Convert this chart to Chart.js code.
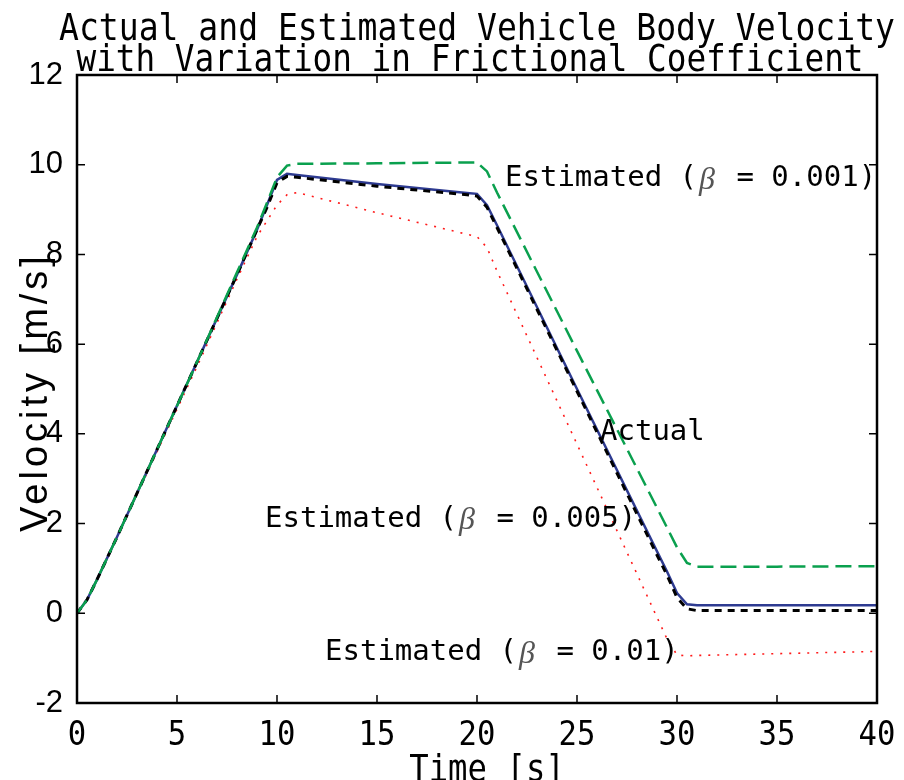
<!DOCTYPE html>
<html>
<head>
<meta charset="utf-8">
<script src="https://cdn.jsdelivr.net/npm/chart.js@4/dist/chart.umd.min.js"></script>
<style>
  html,body{margin:0;padding:0;background:#fff;}
  #wrap{width:904px;height:780px;}
</style>
</head>
<body>
<div id="wrap"><canvas id="c" width="904" height="780"></canvas></div>
<script>
// данные
const time        = [0, 0.5, 1, 2, 4, 6, 8, 9, 9.5, 10, 10.5, 11, 15, 19.5, 20, 20.5, 21, 25, 29, 29.5, 30, 30.5, 31, 35, 40];
const estim001    = [0, 0.3, 0.75, 1.7, 3.65, 5.6, 7.6, 8.6, 9.15, 9.72, 9.98, 10.02, 10.03, 10.05, 10.05, 9.85, 9.38, 5.85, 2.35, 1.91, 1.47, 1.12, 1.04, 1.04, 1.05];
const actualVel   = [0, 0.3, 0.75, 1.7, 3.65, 5.6, 7.55, 8.55, 9.1, 9.66, 9.8, 9.77, 9.57, 9.37, 9.35, 9.1, 8.65, 5.0, 1.38, 0.93, 0.45, 0.2, 0.18, 0.18, 0.18];
const estim005    = [0, 0.3, 0.75, 1.7, 3.65, 5.6, 7.55, 8.55, 9.05, 9.6, 9.74, 9.72, 9.52, 9.33, 9.3, 9.05, 8.6, 4.95, 1.3, 0.85, 0.35, 0.1, 0.06, 0.06, 0.06];
const estim01     = [0, 0.3, 0.75, 1.7, 3.6, 5.5, 7.45, 8.4, 8.75, 9.1, 9.33, 9.38, 8.93, 8.45, 8.4, 8.15, 7.63, 3.77, -0.09, -0.57, -0.93, -0.95, -0.94, -0.9, -0.85];
const xTicks      = [0, 5, 10, 15, 20, 25, 30, 35, 40];
const yTicks      = [-2, 0, 2, 4, 6, 8, 10, 12];
const titleLines  = ['Actual and Estimated Vehicle Body Velocity', 'with Variation in Frictional Coefficient'];
const labels      = [
  {t:21.4, v:9.7,   pre:'Estimated (', tail:' = 0.001)'},
  {t:26.15, v:4.02, pre:'Actual', tail:null},
  {t:9.4,  v:2.1,   pre:'Estimated (', tail:' = 0.005)'},
  {t:12.4, v:-0.88, pre:'Estimated (', tail:' = 0.01)'}
];

const MONO = '"DejaVu Sans Mono", "Liberation Mono", monospace';

function pts(arr){ return time.map((t,i)=>({x:t, y:arr[i]})); }

// текст, сжатый по горизонтали
function narrowText(ctx, str, x, y, sx, align){
  ctx.save();
  ctx.translate(x, y);
  ctx.scale(sx, 1);
  ctx.textAlign = align || 'left';
  ctx.fillText(str, 0, 0);
  ctx.restore();
}

const decor = {
  id:'decor',
  afterDraw(chart){
    const ctx = chart.ctx, a = chart.chartArea;
    const xs = chart.scales.x, ys = chart.scales.y;
    ctx.save();
    ctx.strokeStyle = '#000';
    ctx.fillStyle = '#000';
    // рамка
    ctx.lineWidth = 2.5;
    ctx.strokeRect(a.left, a.top, a.right - a.left, a.bottom - a.top);
    // засечки внутрь
    ctx.lineWidth = 1.5;
    ctx.beginPath();
    xTicks.forEach(t=>{
      const px = xs.getPixelForValue(t);
      ctx.moveTo(px, a.bottom); ctx.lineTo(px, a.bottom - 8);
      ctx.moveTo(px, a.top);    ctx.lineTo(px, a.top + 8);
    });
    yTicks.forEach(v=>{
      const py = ys.getPixelForValue(v);
      ctx.moveTo(a.left, py);  ctx.lineTo(a.left + 8, py);
      ctx.moveTo(a.right, py); ctx.lineTo(a.right - 8, py);
    });
    ctx.stroke();

    // подписи оси X
    ctx.font = '34px ' + MONO;
    ctx.textBaseline = 'alphabetic';
    xTicks.forEach(t=>{
      narrowText(ctx, String(t), xs.getPixelForValue(t), a.bottom + 42, 0.9, 'center');
    });
    // название оси X
    ctx.font = '38px ' + MONO;
    narrowText(ctx, 'Time [s]', (a.left + a.right)/2 + 10, a.bottom + 78, 0.85, 'center');

    // заголовок
    ctx.font = '38px ' + MONO;
    narrowText(ctx, titleLines[0], 477, 40, 0.87, 'center');
    narrowText(ctx, titleLines[1], 470, 71, 0.86, 'center');

    // название оси Y
    ctx.save();
    ctx.translate(47, 392);
    ctx.rotate(-Math.PI/2);
    ctx.font = '38px "Liberation Sans", Arial, sans-serif';
    if ('letterSpacing' in ctx) ctx.letterSpacing = '4px';
    ctx.textAlign = 'center';
    ctx.textBaseline = 'alphabetic';
    ctx.fillText('Velocity [m/s]', 0, 0);
    ctx.restore();

    // подписи кривых
    ctx.textBaseline = 'middle';
    ctx.textAlign = 'left';
    labels.forEach(l=>{
      let x = xs.getPixelForValue(l.t);
      const y = ys.getPixelForValue(l.v);
      ctx.font = '29px ' + MONO;
      ctx.fillText(l.pre, x, y);
      if (l.tail === null) return;
      x += ctx.measureText(l.pre).width;
      ctx.save();
      ctx.font = 'italic 32px "Liberation Serif", "DejaVu Serif", serif';
      ctx.fillStyle = '#555';
      ctx.fillText('β', x + 2, y + 2);
      x += ctx.measureText('β').width + 6;
      ctx.restore();
      ctx.font = '29px ' + MONO;
      ctx.fillText(l.tail, x, y);
    });
    ctx.restore();
  }
};

new Chart(document.getElementById('c'), {
  type:'line',
  data:{
    datasets:[
      {label:'Estimated (β = 0.001)', data:pts(estim001), borderColor:'#0aa04e', borderWidth:2.5, borderDash:[16,7]},
      {label:'Estimated (β = 0.005)', data:pts(estim005), borderColor:'#000', borderWidth:3, borderDash:[7,6]},
      {label:'Actual', data:pts(actualVel), borderColor:'#2e3b91', borderWidth:2.5},
      {label:'Estimated (β = 0.01)', data:pts(estim01), borderColor:'#ff1a1a', borderWidth:1.6, borderDash:[2,7]}
    ]
  },
  options:{
    responsive:false,
    animation:false,
    devicePixelRatio:1,
    layout:{padding:{top:75, right:27, bottom:77, left:0}},
    elements:{point:{radius:0}, line:{tension:0, fill:false, borderCapStyle:'butt'}},
    plugins:{legend:{display:false}, tooltip:{enabled:false}, title:{display:false}},
    scales:{
      x:{
        type:'linear', min:0, max:40,
        grid:{display:false}, border:{display:false},
        ticks:{display:false},
        afterFit(s){ s.height = 0; }
      },
      y:{
        min:-2, max:12,
        grid:{display:false}, border:{display:false},
        afterBuildTicks(s){ s.ticks = yTicks.map(v=>({value:v})); },
        ticks:{
          color:'#000', padding:6,
          font:{family:'"Liberation Sans", Arial, sans-serif', size:31}
        },
        afterFit(s){ s.width = 77; }
      }
    }
  },
  plugins:[decor]
});
</script>
</body>
</html>
